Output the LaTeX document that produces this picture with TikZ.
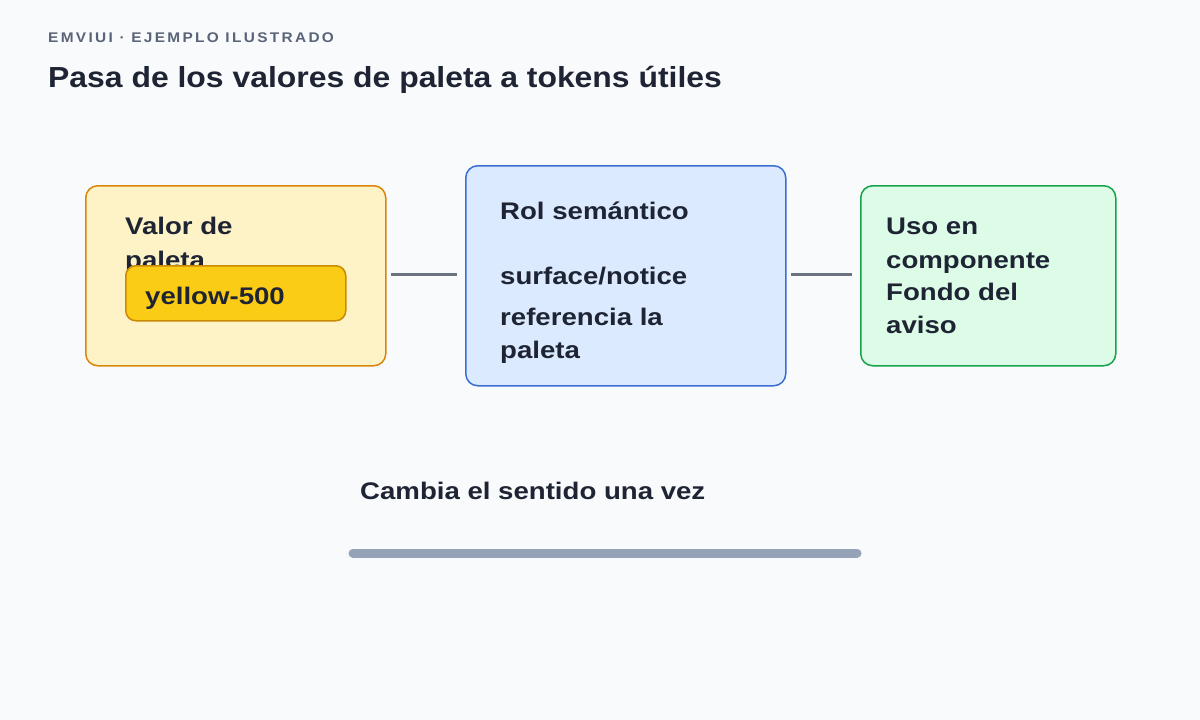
\documentclass[tikz,border=0pt]{standalone}
\usepackage{fontspec}
\setmainfont{Liberation Sans}
\newfontfamily\widefont[FakeStretch=1.15]{Liberation Sans}
\newfontfamily\titlefont[FakeStretch=1.1]{Liberation Sans}
\begin{document}
\begin{tikzpicture}[x=1pt,y=-1pt,
  box/.style={draw,line width=1.5pt,rounded corners=12pt,inner sep=0,anchor=north west},
  lbl/.style={anchor=base west,inner sep=0,font=\widefont\bfseries\fontsize{24}{28}\selectfont,text=ink},
  conn/.style={draw=conn,line width=3pt}]
\definecolor{bg}{HTML}{F8FAFC}
\definecolor{ink}{HTML}{1E2433}
\definecolor{conn}{HTML}{6B7280}
\definecolor{hdrc}{HTML}{5A6478}
\definecolor{ystroke}{HTML}{D9860A}
\definecolor{yfill}{HTML}{FEF3C7}
\definecolor{chipfill}{HTML}{FACC15}
\definecolor{chipstroke}{HTML}{CA8A04}
\definecolor{bstroke}{HTML}{3B6FD4}
\definecolor{bfill}{HTML}{DBEAFE}
\definecolor{gstroke}{HTML}{16A34A}
\definecolor{gfill}{HTML}{DCFCE7}
\definecolor{barc}{HTML}{94A3B8}
\fill[bg] (0,0) rectangle (1200,720);
\useasboundingbox (0,0) rectangle (1200,720);
\node[anchor=base west,inner sep=0,text=hdrc,font=\titlefont\bfseries\fontsize{14}{16}\selectfont] (hdr) at (48,42) {E\,M\,V\,I\,U\,I \,·\, E\,J\,E\,M\,P\,L\,O \,I\,L\,U\,S\,T\,R\,A\,D\,O};
\node[anchor=base west,inner sep=0,text=ink,font=\titlefont\bfseries\fontsize{29}{32}\selectfont] (title) at (48,87) {Pasa de los valores de paleta a tokens útiles};
% box 1
\node[box,draw=ystroke,fill=yfill,minimum width=300pt,minimum height=180pt] (b1) at (85,185) {};
\node[lbl] (t1a) at (125,234) {Valor de};
\node[lbl] (t1b) at (125,268) {paleta};
\node[box,draw=chipstroke,fill=chipfill,rounded corners=10pt,minimum width=220pt,minimum height=55pt] (chip) at (125,265) {};
\node[lbl] (chipt) at (145,304) {yellow-500};
% box 2
\node[box,draw=bstroke,fill=bfill,minimum width=320pt,minimum height=220pt] (b2) at (465,165) {};
\node[lbl] (t2a) at (500,219) {Rol semántico};
\node[lbl] (t2b) at (500,284) {surface/notice};
\node[lbl] (t2c) at (500,325) {referencia la};
\node[lbl] (t2d) at (500,358) {paleta};
% box 3
\node[box,draw=gstroke,fill=gfill,minimum width=255pt,minimum height=180pt] (b3) at (860,185) {};
\node[lbl] (t3a) at (886,234) {Uso en};
\node[lbl] (t3b) at (886,268) {componente};
\node[lbl] (t3c) at (886,300) {Fondo del};
\node[lbl] (t3d) at (886,333) {aviso};
% connectors
\draw[conn] ([xshift=4pt]b1.east |- 0,274) -- ([xshift=-8pt]b2.west |- 0,274);
\draw[conn] ([xshift=4pt]b2.east |- 0,274) -- ([xshift=-8pt]b3.west |- 0,274);
\node[lbl] (cap) at (360,499) {Cambia el sentido una vez};
\coordinate (barL) at (353,553);
\coordinate (barR) at (857,553);
\draw[barc,line width=9pt,line cap=round] (barL) -- (barR);
\end{tikzpicture}
\end{document}
